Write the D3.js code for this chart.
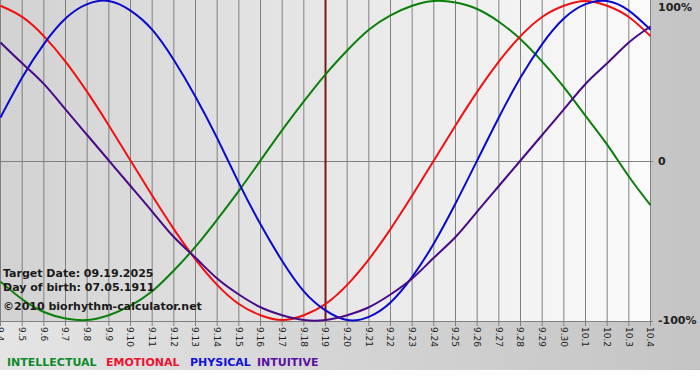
<!DOCTYPE html>
<html>
<head>
<meta charset="utf-8">
<script src="https://cdn.jsdelivr.net/npm/d3@7"></script>
<style>
  body { margin: 0; background: #fff; }
  svg { display: block; font-family: "DejaVu Sans", Verdana, sans-serif; }
</style>
</head>
<body>
<script>
var width = 700;
var height = 380;

// days shown (month.day), 9.4 .. 10.4
var days = ["9.4","9.5","9.6","9.7","9.8","9.9","9.10","9.11","9.12","9.13","9.14","9.15","9.16","9.17","9.18",
            "9.19","9.20","9.21","9.22","9.23","9.24","9.25","9.26","9.27","9.28","9.29","9.30","10.1","10.2","10.3","10.4"];

// values per day, -1 .. 1
var intellectual = [-0.76,-0.87,-0.95,-0.99,-1.00,-0.97,-0.91,-0.82,-0.69,-0.54,-0.37,-0.19,0.00,0.19,0.37,0.54,
                    0.69,0.82,0.91,0.97,1.00,0.99,0.95,0.87,0.76,0.62,0.46,0.28,0.10,-0.10,-0.28];
var emotional = [0.97,0.90,0.78,0.62,0.43,0.22,0.00,-0.22,-0.43,-0.62,-0.78,-0.90,-0.97,-1.00,-0.97,-0.90,
                 -0.78,-0.62,-0.43,-0.22,0.00,0.22,0.43,0.62,0.78,0.90,0.97,1.00,0.97,0.90,0.78];
var physical = [0.27,0.52,0.73,0.89,0.98,1.00,0.94,0.82,0.63,0.40,0.14,-0.14,-0.40,-0.63,-0.82,-0.94,
                -1.00,-0.98,-0.89,-0.73,-0.52,-0.27,0.00,0.27,0.52,0.73,0.89,0.98,1.00,0.94,0.82];
var intuitive = [0.74,0.61,0.48,0.32,0.16,0.00,-0.16,-0.32,-0.48,-0.61,-0.74,-0.84,-0.92,-0.97,-1.00,-1.00,
                 -0.97,-0.92,-0.84,-0.74,-0.61,-0.48,-0.32,-0.16,0.00,0.16,0.32,0.48,0.61,0.74,0.84];

var targetIndex = 15; // 9.19

var series = [
  {name: "INTELLECTUAL", values: intellectual, color: "#0a800a", label: "#0e8a2c", lx: 7},
  {name: "EMOTIONAL", values: emotional, color: "#f01010", label: "#ee1030", lx: 106},
  {name: "PHYSICAL", values: physical, color: "#0a0acc", label: "#1010d8", lx: 190},
  {name: "INTUITIVE", values: intuitive, color: "#4a0a88", label: "#5a10a0", lx: 257}
];

var yTicks = [{v: 1, t: "100%"}, {v: 0, t: "0"}, {v: -1, t: "-100%"}];

var plotW = 651, plotH = 321;

var x = d3.scaleLinear().domain([0, days.length - 1]).range([0.5, plotW - 0.5]);
var y = d3.scaleLinear().domain([-1, 1]).range([320, 1]);

var svg = d3.select("body")
            .append("svg")
            .attr("width", width)
            .attr("height", height);

var defs = svg.append("defs");
var g1 = defs.append("linearGradient").attr("id", "outerGrad");
g1.append("stop").attr("offset", "0%").attr("stop-color", "#e4e4e4");
g1.append("stop").attr("offset", "100%").attr("stop-color", "#c4c4c4");
var g2 = defs.append("linearGradient").attr("id", "plotGrad");
g2.append("stop").attr("offset", "0%").attr("stop-color", "#d2d2d2");
g2.append("stop").attr("offset", "100%").attr("stop-color", "#fbfbfb");

svg.append("rect").attr("width", width).attr("height", 370).attr("fill", "url(#outerGrad)");
svg.append("rect").attr("width", plotW).attr("height", plotH).attr("fill", "url(#plotGrad)");

// vertical day lines with ticks below
svg.append("g").selectAll("line")
  .data(days)
  .enter().append("line")
  .attr("x1", function(d, i) { return x(i); })
  .attr("x2", function(d, i) { return x(i); })
  .attr("y1", 0)
  .attr("y2", plotH + 5)
  .attr("stroke", "#808080")
  .attr("stroke-width", 1);

// zero and bottom lines
svg.append("line").attr("x1", 0).attr("x2", plotW + 2)
  .attr("y1", Math.round(y(0)) + 0.5).attr("y2", Math.round(y(0)) + 0.5)
  .attr("stroke", "#808080");
svg.append("line").attr("x1", 0).attr("x2", plotW + 2)
  .attr("y1", plotH + 0.5).attr("y2", plotH + 0.5)
  .attr("stroke", "#808080");

// day labels, rotated
svg.append("g").selectAll("text")
  .data(days)
  .enter().append("text")
  .attr("transform", function(d, i) { return "translate(" + x(i) + "," + (plotH + 6) + ") rotate(90)"; })
  .attr("dy", "0.35em")
  .attr("font-size", 9)
  .attr("fill", "#222")
  .text(function(d) { return d; });

// right labels (kept inside the picture at the top/bottom)
svg.append("g").selectAll("text")
  .data(yTicks)
  .enter().append("text")
  .attr("x", 658)
  .attr("y", function(d) { return Math.min(Math.max(y(d.v) + 4, 11), 326); })
  .attr("font-size", 11)
  .attr("font-weight", "bold")
  .attr("fill", "#222")
  .text(function(d) { return d.t; });

// target date marker
svg.append("line")
  .attr("x1", x(targetIndex)).attr("x2", x(targetIndex))
  .attr("y1", 0).attr("y2", plotH)
  .attr("stroke", "#7a1818")
  .attr("stroke-width", 2);

var line = d3.line()
  .x(function(d, i) { return x(i); })
  .y(function(d) { return y(d); })
  .curve(d3.curveNatural);

svg.append("g").selectAll("path")
  .data(series)
  .enter().append("path")
  .attr("d", function(s) { return line(s.values); })
  .attr("fill", "none")
  .attr("stroke", function(s) { return s.color; })
  .attr("stroke-width", 2);

// info text
var info = ["Target Date: 09.19.2025", "Day of birth: 07.05.1911", "\u00a92010 biorhythm-calculator.net"];
var infoY = [277, 291, 310];
svg.append("g").selectAll("text")
  .data(info)
  .enter().append("text")
  .attr("x", 3)
  .attr("y", function(d, i) { return infoY[i]; })
  .attr("font-size", 11)
  .attr("font-weight", "bold")
  .attr("fill", "#1a1a1a")
  .text(function(d) { return d; });

// legend
svg.append("g").selectAll("text")
  .data(series)
  .enter().append("text")
  .attr("x", function(s) { return s.lx; })
  .attr("y", 366)
  .attr("font-size", 11)
  .attr("font-weight", "bold")
  .attr("fill", function(s) { return s.label; })
  .text(function(s) { return s.name; });
</script>
</body>
</html>
